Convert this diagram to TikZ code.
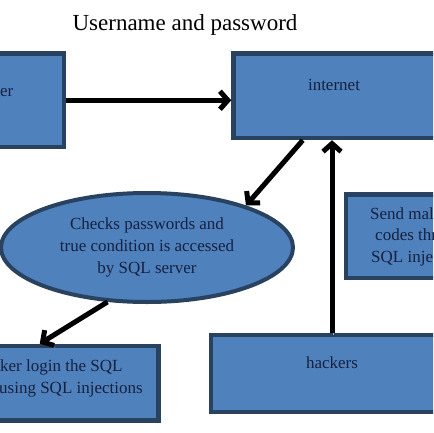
\documentclass[tikz,border=0pt]{standalone}
\usepackage{fontspec}
\setmainfont{Liberation Serif}
\usetikzlibrary{arrows.meta,shapes.geometric,calc}
\definecolor{boxfill}{HTML}{4F81BD}
\definecolor{boxline}{HTML}{29425F}
\definecolor{boxtext}{HTML}{16213F}
\begin{document}
\begin{tikzpicture}[x=1pt,y=-1pt,
  box/.style={draw=boxline, fill=boxfill, line width=4.5pt, rectangle, inner sep=0pt},
  txt/.style={text=boxtext, font=\fontsize{17}{22}\selectfont, inner sep=0pt},
  arr/.style={draw=black, line width=5pt,
    -{Straight Barb[length=8pt,width=18pt,line width=5pt]},
    preaction={draw=gray!60, transform canvas={shift={(1pt,-2pt)}}}}]
\useasboundingbox (0,0) rectangle (433,433);
\clip (0,0) rectangle (433,433);
\fill[white] (0,0) rectangle (433,433);

% title
\node[anchor=base, inner sep=0pt, font=\fontsize{23}{27}\selectfont] (title) at (185,31) {Username and password};

% boxes
\node[box, minimum width=127.5pt, minimum height=93.5pt] (user) at (0,100.25) {};
\node[box, minimum width=206.5pt, minimum height=84.5pt] (internet) at (336.75,95.75) {};
\node[box, minimum width=223.5pt, minimum height=74.5pt] (attack) at (46.75,383.25) {};
\node[box, minimum width=154pt, minimum height=83.3pt] (send) at (423,236.35) {};
\node[box, minimum width=242pt, minimum height=77pt] (hackers) at (332,373.5) {};
\node[ellipse, draw=boxline, fill=boxfill, line width=4pt, inner sep=0pt,
      minimum width=292pt, minimum height=109pt, align=center,
      text=boxtext, font=\fontsize{17}{22}\selectfont] (chk) at (147,247.5)
      {Checks passwords and\\true condition is accessed\\by SQL server};

% texts
\node[txt, anchor=base west] (user-t) at (0,97) {er};
\node[txt, anchor=base] (internet-t) at (334,91) {internet};
\node[txt, anchor=base west] (attack-t1) at (0,371) {ker login the SQL};
\node[txt, anchor=base west] (attack-t2) at (-1,393) {using SQL injections};
\node[txt, anchor=base west] (send-t1) at (370,219) {Send mal};
\node[txt, anchor=base west] (send-t2) at (375,240.5) {codes thr};
\node[txt, anchor=base west] (send-t3) at (371,262) {SQL inje};
\node[txt, anchor=base] (hackers-t) at (332,368.5) {hackers};

% connectors
\draw[arr] (user.east) -- (user.east -| internet.west);
\draw[arr] ($(internet.south west)+(71.5,0)$) -- (chk.23);
\draw[arr] (chk.234) -- ($(attack.north west)+(107,0)$);
\draw[arr] (hackers.north) -- (hackers.north |- internet.south);
\end{tikzpicture}
\end{document}
